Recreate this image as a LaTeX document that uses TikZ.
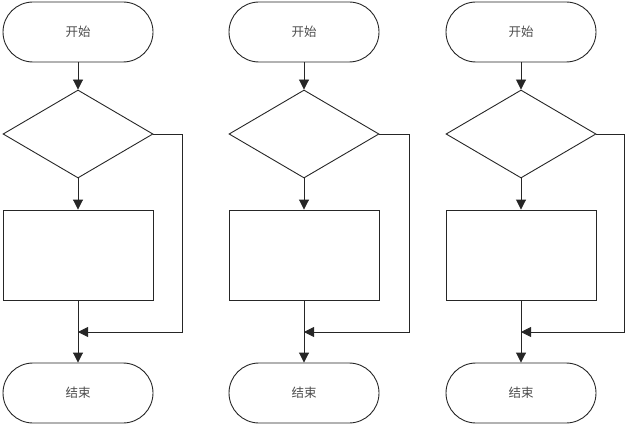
\documentclass[tikz,border=0pt]{standalone}
\usepackage{fontspec}
\newfontfamily\cjk{Noto Sans CJK SC}
\usetikzlibrary{shapes.geometric,arrows.meta}
\begin{document}
\begin{tikzpicture}[x=1pt,y=-1pt,
  line width=0.9pt,
  lncol/.style={draw=black!85},
  term/.style={lncol,rectangle,rounded corners=30pt,minimum width=150pt,minimum height=60pt,inner sep=0pt,font=\cjk\fontsize{12.5}{14}\selectfont,text=black!70},
  decis/.style={lncol,diamond,minimum width=150pt,minimum height=88pt,inner sep=0pt},
  proc/.style={lncol,rectangle,minimum width=150pt,minimum height=90pt,inner sep=0pt},
  arr/.style={lncol,-{Triangle[length=10pt,width=10pt]}},
  ln/.style={lncol}]
\useasboundingbox (0,0) rectangle (628,425);
\foreach \n/\c/\r in {1/78/182, 2/304/409, 3/521/624}{
  \node[term] (s\n) at (\c,32) {开始};
  \node[decis] (d\n) at (\c,134) {};
  \node[proc] (p\n) at (\c,255) {};
  \node[term] (e\n) at (\c,393) {结束};
  \coordinate (m\n) at (\c,332);
  \coordinate (r\n) at (\r,134);
  \draw[arr] (s\n.south) -- (d\n.north);
  \draw[arr] (d\n.south) -- (p\n.north);
  \draw[ln] (p\n.south) -- (m\n);
  \draw[arr] (m\n) -- (e\n.north);
  \draw[arr] (d\n.east) -- (r\n) |- (m\n);
}
\end{tikzpicture}
\end{document}
